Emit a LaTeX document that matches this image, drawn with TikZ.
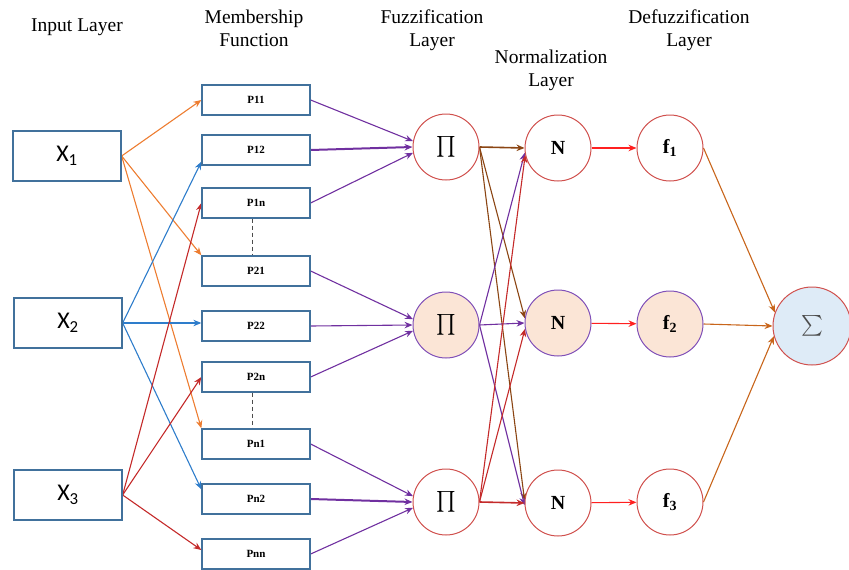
\documentclass[tikz,border=0pt]{standalone}
\usepackage{amsmath}
\usepackage{fontspec}
\setmainfont{Liberation Serif}
\newfontfamily\calibrifont{Carlito}
\usepackage{tikz}
\usetikzlibrary{arrows.meta}
\pgfdeclarelayer{edgelayer}
\pgfdeclarelayer{nodelayer}
\pgfsetlayers{edgelayer,nodelayer,main}
\definecolor{boxblue}{HTML}{41719C}
\definecolor{nodered}{HTML}{D0504D}
\definecolor{nodepurple}{HTML}{8050B8}
\definecolor{peach}{HTML}{FBE5D6}
\definecolor{sumblue}{HTML}{DEEBF7}
\definecolor{aorange}{HTML}{ED7D31}
\definecolor{ablue}{HTML}{2E7DCB}
\definecolor{adarkred}{HTML}{C42A2A}
\definecolor{apurple}{HTML}{7030A0}
\definecolor{abrown}{HTML}{8B4513}
\definecolor{ared}{HTML}{FF2020}
\definecolor{asum}{HTML}{C8651B}
\tikzstyle{title}=[align=center, font=\fontsize{19.5}{23}\selectfont]
\tikzstyle{inbox}=[rectangle, draw=boxblue, fill=white, line width=1.3pt, minimum width=108pt, minimum height=50pt, inner sep=0pt, font=\calibrifont\fontsize{24}{26}\selectfont]
\tikzstyle{mfbox}=[rectangle, draw=boxblue, fill=white, line width=1.3pt, minimum width=108pt, minimum height=30pt, inner sep=0pt, font=\bfseries\fontsize{11}{12}\selectfont]
\tikzstyle{layernode}=[circle, draw=nodered, fill=white, line width=1pt, minimum size=66pt, inner sep=0pt, font=\fontsize{20}{22}\selectfont]
\tikzstyle{midnode}=[layernode, draw=nodepurple, fill=peach]
\tikzstyle{sumnode}=[layernode, fill=sumblue, minimum size=78pt, font=\fontsize{22}{24}\selectfont]
\tikzstyle{arrow}=[-{Stealth[length=8pt,width=6.5pt]}, line width=1.1pt]

\begin{document}
\begin{tikzpicture}[x=1pt, y=-1pt]
            \useasboundingbox (0,0) rectangle (849,570);
            \begin{pgfonlayer}{nodelayer}
                \node [style=title] (tin) at (77, 27) {Input Layer};
                \node [style=title] (tmf) at (254, 28.5) {Membership\\Function};
                \node [style=title] (tfz) at (432, 30.5) {Fuzzification\\Layer};
                \node [style=title] (tnm) at (551, 70) {Normalization\\Layer};
                \node [style=title] (tdf) at (689, 30.5) {Defuzzification\\Layer};

                \node [style=inbox] (X1) at (67, 156) {X\textsubscript{1}};
                \node [style=inbox] (X2) at (68, 323) {X\textsubscript{2}};
                \node [style=inbox] (X3) at (68, 495) {X\textsubscript{3}};

                \node [style=mfbox] (P11) at (256, 100) {P11};
                \node [style=mfbox] (P12) at (256, 150) {P12};
                \node [style=mfbox] (P1n) at (256, 203) {P1n};
                \node [style=mfbox] (P21) at (256, 271) {P21};
                \node [style=mfbox] (P22) at (256, 326) {P22};
                \node [style=mfbox] (P2n) at (256, 377) {P2n};
                \node [style=mfbox] (Pn1) at (256, 444) {Pn1};
                \node [style=mfbox] (Pn2) at (256, 499) {Pn2};
                \node [style=mfbox] (Pnn) at (256, 554) {Pnn};

                \node [style=layernode] (Pi1) at (446, 147) {$\prod$};
                \node [style=midnode] (Pi2) at (446, 325) {$\prod$};
                \node [style=layernode] (Pi3) at (446, 502) {$\prod$};

                \node [style=layernode] (N1) at (558, 148) {\textbf{N}};
                \node [style=midnode] (N2) at (558, 323) {\textbf{N}};
                \node [style=layernode] (N3) at (558, 503) {\textbf{N}};

                \node [style=layernode] (f1) at (670, 148) {\textbf{f\textsubscript{1}}};
                \node [style=midnode] (f2) at (670, 324) {\textbf{f\textsubscript{2}}};
                \node [style=layernode] (f3) at (670, 502) {\textbf{f\textsubscript{3}}};

                \node [style=sumnode] (S) at (812, 326) {\color{black!70}$\sum$};
            \end{pgfonlayer}
            \begin{pgfonlayer}{edgelayer}
                \draw [style=arrow, aorange] (X1.east) to (P11.west);
                \draw [style=arrow, aorange] (X1.east) to (P21.north west);
                \draw [style=arrow, aorange] (X1.east) to (Pn1.north west);

                \draw [style=arrow, ablue] (X2.east) to ([yshift=4pt]P12.south west);
                \draw [style=arrow, ablue] (X2.east) to ([yshift=3pt]P22.west);
                \draw [style=arrow, ablue] (X2.east) to ([yshift=-6pt]Pn2.north west);

                \draw [style=arrow, adarkred] (X3.east) to (P1n.west);
                \draw [style=arrow, adarkred] (X3.east) to (P2n.west);
                \draw [style=arrow, adarkred] (X3.east) to ([yshift=4pt]Pnn.west);

                \draw [dashed, dash pattern=on 4pt off 3pt, line width=1pt, black!70] ([xshift=-4pt]P1n.south) to ([xshift=-4pt]P21.north);
                \draw [dashed, dash pattern=on 4pt off 3pt, line width=1pt, black!70] ([xshift=-4pt]P2n.south) to ([xshift=-4pt]Pn1.north);

                \draw [style=arrow, apurple] (P11.east) to (Pi1.170);
                \draw [style=arrow, apurple, line width=2pt] (P12.east) to (Pi1.west);
                \draw [style=arrow, apurple] (P1n.east) to (Pi1.190);
                \draw [style=arrow, apurple] (P21.east) to (Pi2.170);
                \draw [style=arrow, apurple] (P22.east) to (Pi2.west);
                \draw [style=arrow, apurple] (P2n.east) to (Pi2.190);
                \draw [style=arrow, apurple] (Pn1.east) to (Pi3.170);
                \draw [style=arrow, apurple, line width=2pt] (Pn2.east) to (Pi3.west);
                \draw [style=arrow, apurple] (Pnn.east) to (Pi3.190);

                \draw [style=arrow, abrown, line width=1.6pt] (Pi1.east) to (N1.west);
                \draw [style=arrow, abrown] (Pi1.east) to (N2.172);
                \draw [style=arrow, abrown] (Pi1.east) to (N3.176);
                \draw [style=arrow, apurple] (Pi2.east) to (N1.188);
                \draw [style=arrow, apurple] (Pi2.east) to (N2.west);
                \draw [style=arrow, apurple] (Pi2.east) to (N3.184);
                \draw [style=arrow, adarkred] (Pi3.east) to (N1.192);
                \draw [style=arrow, adarkred] (Pi3.east) to (N2.190);
                \draw [style=arrow, adarkred, line width=1.6pt] (Pi3.east) to (N3.west);

                \draw [style=arrow, ared] (N1) to (f1);
                \draw [style=arrow, ared] (N2) to (f2);
                \draw [style=arrow, ared] (N3) to (f3);

                \draw [style=arrow, asum] (f1.east) to (S.160);
                \draw [style=arrow, asum] (f2.east) to (S.west);
                \draw [style=arrow, asum] (f3.east) to (S.195);
            \end{pgfonlayer}
        \end{tikzpicture}
\end{document}
